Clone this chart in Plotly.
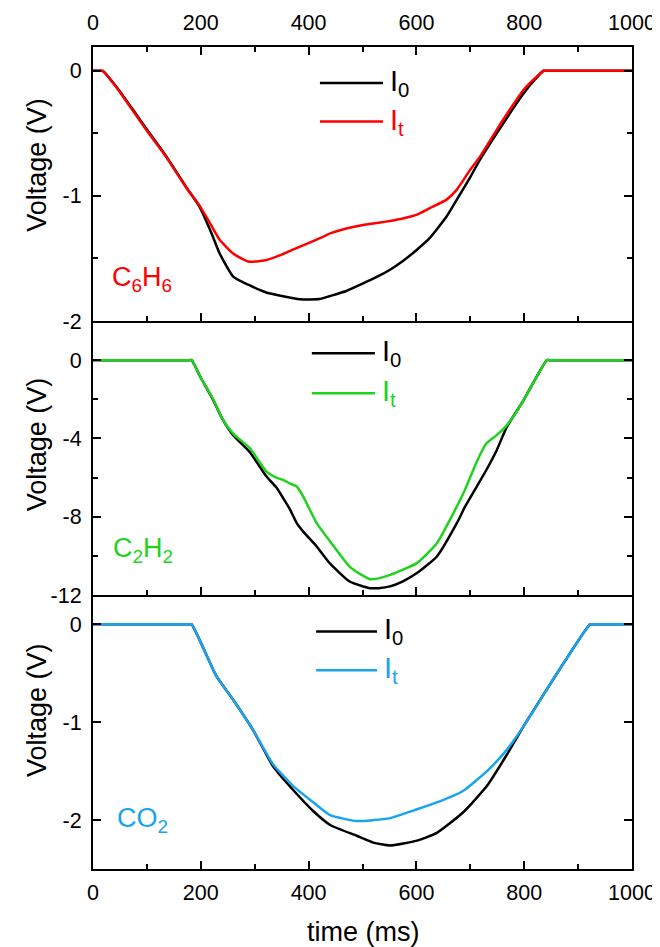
import plotly.graph_objects as go

# ---------------- data ----------------
t_c6h6 = [0, 12, 18, 43, 74, 100, 136, 173, 198, 220, 235, 260, 288, 320, 350, 384, 420, 440, 470, 501,
          530, 551, 575, 601, 624, 656, 675, 700, 718, 749, 775, 799, 820, 836, 842, 1000]
i0_c6h6 = [0, 0, 0, -0.125, -0.31, -0.47, -0.685, -0.93, -1.09, -1.30, -1.46, -1.645, -1.71, -1.77, -1.80,
           -1.826, -1.825, -1.80, -1.76, -1.70, -1.64, -1.59, -1.52, -1.43, -1.34, -1.165, -1.03, -0.85,
           -0.71, -0.50, -0.33, -0.18, -0.07, 0, 0, 0]
it_c6h6 = [0, 0, 0, -0.13, -0.32, -0.48, -0.69, -0.935, -1.08, -1.24, -1.35, -1.46, -1.525, -1.515, -1.47,
           -1.405, -1.34, -1.30, -1.26, -1.232, -1.215, -1.20, -1.18, -1.15, -1.10, -1.03, -0.95, -0.79,
           -0.686, -0.472, -0.30, -0.152, -0.06, 0, 0, 0]

t_c2h2 = [0, 178, 183, 200, 223, 240, 260, 291, 322, 340, 353, 365, 378, 390, 415, 440, 476, 500, 514, 530,
          551, 575, 601, 638, 675, 690, 712, 730, 749, 768, 799, 820, 842, 847, 1000]
i0_c2h2 = [0, 0, 0, -0.9, -2.04, -3.0, -3.83, -4.7, -5.95, -6.5, -7.06, -7.6, -8.33, -8.76, -9.52, -10.40,
           -11.31, -11.55, -11.65, -11.65, -11.56, -11.3, -10.88, -10.03, -8.33, -7.5, -6.46, -5.6, -4.6,
           -3.40, -2.04, -1.0, 0, 0, 0]
it_c2h2 = [0, 0, 0, -0.9, -2.0, -3.0, -3.75, -4.5, -5.7, -6.0, -6.12, -6.3, -6.46, -6.97, -8.33, -9.27,
           -10.55, -11.0, -11.19, -11.15, -10.97, -10.7, -10.37, -9.35, -7.48, -6.63, -5.19, -4.25, -3.83,
           -3.32, -2.04, -1.0, 0, 0, 0]

t_co2 = [0, 178, 183, 229, 260, 297, 334, 371, 409, 440, 489, 520, 551, 601, 638, 687, 731, 768, 799, 861,
         922, 927, 1000]
i0_co2 = [0, 0, 0, -0.53, -0.77, -1.08, -1.45, -1.69, -1.91, -2.05, -2.16, -2.23, -2.26, -2.21, -2.13,
          -1.92, -1.65, -1.33, -1.04, -0.50, 0, 0, 0]
it_co2 = [0, 0, 0, -0.53, -0.77, -1.08, -1.43, -1.65, -1.82, -1.95, -2.01, -2.0, -1.98, -1.89, -1.82,
          -1.70, -1.50, -1.28, -1.04, -0.50, 0, 0, 0]

panel_names = ["C<sub>6</sub>H<sub>6</sub>", "C<sub>2</sub>H<sub>2</sub>", "CO<sub>2</sub>"]
panel_colors = ["#FF0000", "#1ED31E", "#18A4EE"]
legend_labels = ["I<sub>0</sub>", "I<sub>t</sub>"]
x_ticks = [0, 200, 400, 600, 800, 1000]
y_ticks_c6h6 = [-2, -1, 0]
y_ticks_c2h2 = [-12, -8, -4, 0]
y_ticks_co2 = [-2, -1, 0]

FONT = "Liberation Sans, Arial, sans-serif"

fig = go.Figure()

panels = [
    ("3", t_c6h6, i0_c6h6, it_c6h6, panel_colors[0], panel_names[0]),
    ("2", t_c2h2, i0_c2h2, it_c2h2, panel_colors[1], panel_names[1]),
    ("", t_co2, i0_co2, it_co2, panel_colors[2], panel_names[2]),
]

for suf, t, i0, it, col, name in panels:
    xa = "x" + suf
    ya = "y" + suf
    fig.add_trace(go.Scatter(x=t, y=i0, mode="lines",
                             line=dict(color="black", width=2.5, shape="spline", smoothing=0.5),
                             xaxis=xa, yaxis=ya, showlegend=False))
    fig.add_trace(go.Scatter(x=t, y=it, mode="lines",
                             line=dict(color=col, width=2.5, shape="spline", smoothing=0.5),
                             xaxis=xa, yaxis=ya, showlegend=False))

axis_common = dict(showline=True, linecolor="black", linewidth=2, ticks="inside", ticklen=8,
                   tickwidth=1.5, tickcolor="black", showgrid=False, zeroline=False, automargin=False,
                   tickfont=dict(family=FONT, size=21.5, color="black"))

minor_tick = dict(ticks="inside", ticklen=5, tickwidth=1.5, tickcolor="black")

xcommon = dict(axis_common, range=[0, 1000], tickmode="array", tickvals=x_ticks,
               ticktext=[str(v) for v in x_ticks],
               minor=dict(minor_tick, dtick=100, tick0=0))


def ytick(vals):
    return dict(tickmode="array", tickvals=vals, ticktext=[str(v) for v in vals])


# the page body adds an 8px offset; size and margins compensate so the frame sits where the reference has it
fig.update_layout(
    width=652, height=939,
    margin=dict(l=85, r=28, t=39, b=78, autoexpand=False),
    paper_bgcolor="white", plot_bgcolor="white",
    showlegend=False,
    # bottom panel (CO2)
    xaxis=dict(xcommon, anchor="y", domain=[0, 1], side="bottom", mirror=False, ticklabelstandoff=3),
    yaxis=dict(axis_common, **ytick(y_ticks_co2), anchor="x", domain=[0, 1 / 3], range=[-2.5, 0.3],
               mirror="allticks", ticklabelstandoff=5),
    # middle panel (C2H2)
    xaxis2=dict(xcommon, anchor="y2", domain=[0, 1], side="bottom", mirror=False, showticklabels=False),
    yaxis2=dict(axis_common, **ytick(y_ticks_c2h2), anchor="x2", domain=[1 / 3, 2 / 3], range=[-12, 2],
                mirror="allticks", ticklabelstandoff=5,
                minor=dict(minor_tick, dtick=2, tick0=0)),
    # top panel (C6H6)
    xaxis3=dict(xcommon, anchor="y3", domain=[0, 1], side="top", mirror="allticks", ticklabelstandoff=6),
    yaxis3=dict(axis_common, **ytick(y_ticks_c6h6), anchor="x3", domain=[2 / 3, 1], range=[-2, 0.19],
                mirror="allticks", ticklabelstandoff=5,
                minor=dict(minor_tick, dtick=0.5, tick0=0)),
)

legend_pos = {  # suffix: (x_start, x_end, y_row1, y_row2) in axis-domain fractions
    "3": (0.421, 0.538, 0.869, 0.728),
    "2": (0.406, 0.523, 0.882, 0.736),
    "": (0.414, 0.527, 0.867, 0.725),
}
label_pos = {"3": (0.031, 0.155), "2": (0.034, 0.163), "": (0.040, 0.18)}
title_y = {"3": 0.57, "2": 0.55, "": 0.58}

for suf, t, i0, it, col, name in panels:
    xd = "x" + suf + " domain"
    yd = "y" + suf + " domain"
    x0, x1, yr1, yr2 = legend_pos[suf]
    for yy, c, lab in [(yr1, "black", legend_labels[0]), (yr2, col, legend_labels[1])]:
        fig.add_shape(type="line", xref=xd, yref=yd, x0=x0, x1=x1, y0=yy, y1=yy,
                      line=dict(color=c, width=2.5))
        fig.add_annotation(xref=xd, yref=yd, x=x1 + 0.01, y=yy, text=lab, showarrow=False,
                           xanchor="left", yanchor="middle",
                           font=dict(family=FONT, size=29, color=c))
    lx, ly = label_pos[suf]
    fig.add_annotation(xref=xd, yref=yd, x=lx, y=ly, text=name, showarrow=False,
                       xanchor="left", yanchor="middle", font=dict(family=FONT, size=27, color=col))
    fig.add_annotation(xref="paper", yref=yd, x=-0.104, y=title_y[suf], text="Voltage (V)",
                       textangle=-90, showarrow=False, xanchor="center", yanchor="middle",
                       font=dict(family=FONT, size=27, color="black"))

fig.add_annotation(xref="paper", yref="paper", x=0.5, y=-0.077, text="time (ms)", showarrow=False,
                   xanchor="center", yanchor="middle", font=dict(family=FONT, size=27, color="black"))

fig.write_html("out.html")
